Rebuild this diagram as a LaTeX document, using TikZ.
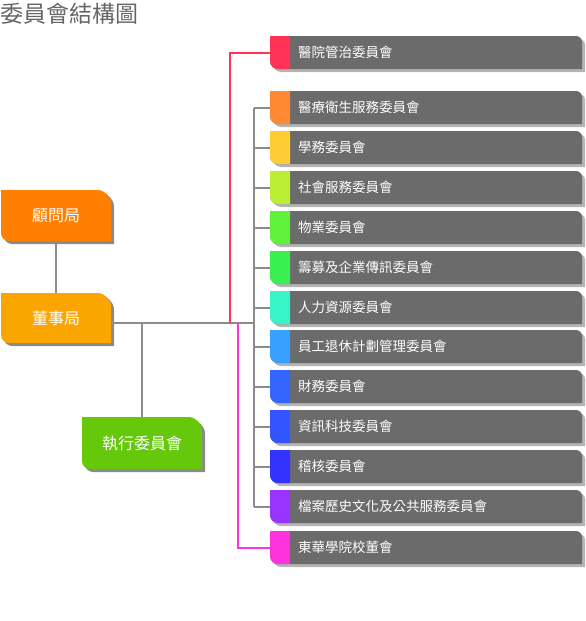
\documentclass[tikz,border=0pt]{standalone}
\usepackage{fontspec}
\setmainfont{Noto Sans CJK TC}
\definecolor{linegray}{HTML}{8C8C8C}
\definecolor{boxgray}{HTML}{6B6B6B}
\definecolor{rshadow}{HTML}{B4B4B4}
\definecolor{lshadow}{HTML}{8A8A8A}
\definecolor{titlegray}{HTML}{666666}
\definecolor{redline}{HTML}{FF3355}
\definecolor{magline}{HTML}{FF33DD}
\definecolor{cA}{HTML}{FF3355}
\definecolor{cB}{HTML}{FF8833}
\definecolor{cC}{HTML}{FFCC33}
\definecolor{cD}{HTML}{BBEE33}
\definecolor{cE}{HTML}{5EF23A}
\definecolor{cF}{HTML}{3AF050}
\definecolor{cG}{HTML}{38F5C8}
\definecolor{cH}{HTML}{38A0FF}
\definecolor{cI}{HTML}{3366FF}
\definecolor{cJ}{HTML}{3355FF}
\definecolor{cK}{HTML}{3333FF}
\definecolor{cL}{HTML}{9933FF}
\definecolor{cM}{HTML}{FF33DD}
\definecolor{guwen}{HTML}{FF7F00}
\definecolor{dongshi}{HTML}{FAA500}
\definecolor{zhixing}{HTML}{66C80A}
% right-hand committee box: #1 name, #2 top (px), #3 stripe colour, #4 text
\newcommand\orgrbox[4]{%
  \pgfmathsetmacro\yt{-#2}%
  \pgfmathsetmacro\yb{-#2-33}%
  \pgfmathsetmacro\yc{-#2-16.5}%
  \begin{scope}[shift={(3,-3)}]
    \fill[rshadow] (270,\yt) -- (576,\yt) arc[start angle=90,end angle=0,radius=6pt]
      -- (582,\yb) -- (278,\yb) arc[start angle=270,end angle=180,radius=8pt] -- cycle;
  \end{scope}
  \fill[boxgray] (270,\yt) -- (576,\yt) arc[start angle=90,end angle=0,radius=6pt]
      -- (582,\yb) -- (278,\yb) arc[start angle=270,end angle=180,radius=8pt] -- cycle;
  \fill[#3] (270,\yt) -- (290,\yt) -- (290,\yb) -- (278,\yb)
      arc[start angle=270,end angle=180,radius=8pt] -- cycle;
  \node[boxanchor] (#1) at (426,\yc) {};
  \node[rlabel] (#1-t) at (298,\yc) {#4};
}
% left-hand box: #1 name, #2 x1, #3 y1, #4 x2, #5 y2, #6 colour, #7 text
\newcommand\orglbox[7]{%
  \pgfmathsetmacro\yt{-#3}%
  \pgfmathsetmacro\yb{-#5}%
  \pgfmathsetmacro\xa{#4-14}%
  \pgfmathsetmacro\xb{#2+8}%
  \pgfmathsetmacro\cx{(#2+#4)/2}%
  \pgfmathsetmacro\cy{-(#3+#5)/2}%
  \pgfmathsetmacro\w{#4-#2}%
  \pgfmathsetmacro\h{#5-#3}%
  \begin{scope}[shift={(3,-3)}]
    \fill[lshadow] (#2,\yt) -- (\xa,\yt) arc[start angle=90,end angle=0,radius=14pt]
      -- (#4,\yb) -- (\xb,\yb) arc[start angle=270,end angle=180,radius=8pt] -- cycle;
  \end{scope}
  \fill[#6] (#2,\yt) -- (\xa,\yt) arc[start angle=90,end angle=0,radius=14pt]
      -- (#4,\yb) -- (\xb,\yb) arc[start angle=270,end angle=180,radius=8pt] -- cycle;
  \node[lbox,minimum width=\w pt,minimum height=\h pt] (#1) at (\cx,\cy) {#7};
}
\begin{document}
\begin{tikzpicture}[x=1pt,y=1pt,
  line/.style={draw=linegray,line width=2pt},
  rlabel/.style={anchor=west,inner sep=0pt,text=white,font=\fontsize{13.5}{15}\selectfont},
  lbox/.style={inner sep=0pt,text=white,font=\fontsize{16}{18}\selectfont},
  boxanchor/.style={inner sep=0pt,minimum width=312pt,minimum height=33pt},
  titlestyle/.style={anchor=base west,inner sep=0pt,text=titlegray,font=\fontsize{23}{25}\selectfont}]
\useasboundingbox (0,0) rectangle (586,-621);
\node[titlestyle] (title) at (0,-22) {委員會結構圖};

% boxes
\orglbox{guwen}{1}{190}{111}{241}{guwen}{顧問局}
\orglbox{dongshi}{1}{293}{111}{343}{dongshi}{董事局}
\orglbox{zhixing}{82}{417}{202}{469}{zhixing}{執行委員會}

\coordinate (bus) at (111,-323);
\coordinate (spine) at (254,-323);
\coordinate (redfoot) at (230,-323);
\coordinate (magfoot) at (238,-323);

% connectors (drawn first via on background is not needed: boxes of right side drawn after)
\draw[line] (guwen.south) -- (dongshi.north);
\draw[line] (bus) -- (spine);
\draw[line] (zhixing.north |- bus) -- (zhixing.north);

\orgrbox{b1}{36}{cA}{醫院管治委員會}
\orgrbox{b2}{91}{cB}{醫療衛生服務委員會}
\orgrbox{b3}{131}{cC}{學務委員會}
\orgrbox{b4}{171}{cD}{社會服務委員會}
\orgrbox{b5}{211}{cE}{物業委員會}
\orgrbox{b6}{251}{cF}{籌募及企業傳訊委員會}
\orgrbox{b7}{291}{cG}{人力資源委員會}
\orgrbox{b8}{330}{cH}{員工退休計劃管理委員會}
\orgrbox{b9}{370}{cI}{財務委員會}
\orgrbox{b10}{410}{cJ}{資訊科技委員會}
\orgrbox{b11}{450}{cK}{稽核委員會}
\orgrbox{b12}{490}{cL}{檔案歷史文化及公共服務委員會}
\orgrbox{b13}{531}{cM}{東華學院校董會}

\draw[line] (spine |- b2.west) -- (spine |- b12.west);
\foreach \b in {b2,b3,b4,b5,b6,b7,b8,b9,b10,b11,b12}
  \draw[line] (spine |- \b.west) -- (\b.west);
\draw[draw=redline,line width=2pt] (redfoot) |- (b1.west);
\draw[draw=magline,line width=2pt] (magfoot) |- (b13.west);
\end{tikzpicture}
\end{document}
